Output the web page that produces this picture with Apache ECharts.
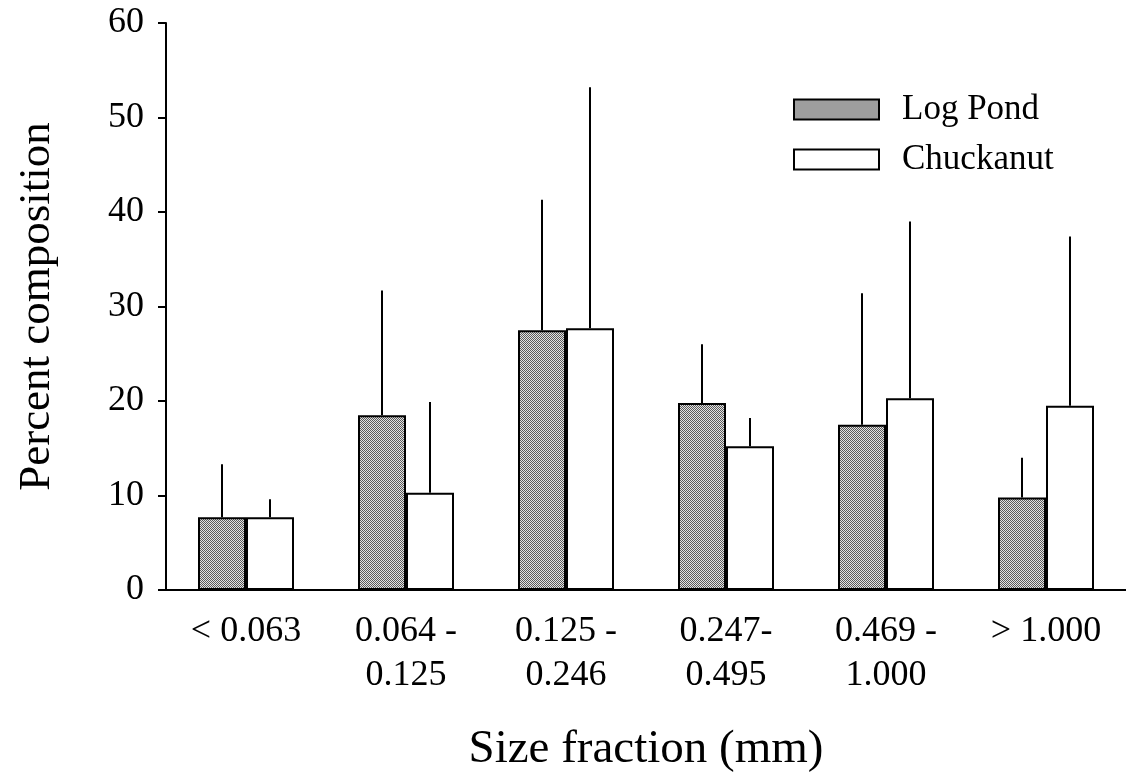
<!DOCTYPE html>
<html>
<head>
<meta charset="utf-8">
<script src="https://cdn.jsdelivr.net/npm/echarts@6/dist/echarts.min.js"></script>
<style>
  html, body { margin: 0; padding: 0; background: #fff; }
  #chart { width: 1126px; height: 780px; }
</style>
</head>
<body>
<div id="chart"></div>
<script>
// size fractions (mm)
var categories = ['< 0.063', '0.064 -\n0.125', '0.125 -\n0.246', '0.247-\n0.495', '0.469 -\n1.000', '> 1.000'];
// mean percent composition
var logPond = [7.7, 18.5, 27.5, 19.8, 17.5, 9.8];
var chuckanut = [7.7, 10.3, 27.7, 15.2, 20.3, 19.5];
// top of the error bars
var logPondUpper = [13.3, 31.7, 41.3, 26.0, 31.4, 14.0];
var chuckanutUpper = [9.6, 19.9, 53.2, 18.2, 39.0, 37.4];
var yTicks = { min: 0, max: 60, interval: 10 };

var serif = 'Liberation Serif, Times New Roman, serif';

// stippled fill like the original print
function makePattern() {
  var c = document.createElement('canvas');
  c.width = 2;
  c.height = 2;
  var ctx = c.getContext('2d');
  ctx.fillStyle = '#e2e2e2';
  ctx.fillRect(0, 0, 2, 2);
  ctx.fillStyle = '#5a5a5a';
  ctx.fillRect(0, 0, 1, 1);
  ctx.fillRect(1, 1, 1, 1);
  return { image: c, repeat: 'repeat' };
}
var stipple = makePattern();

function errData(vals, uppers) {
  var out = [];
  for (var i = 0; i < vals.length; i++) {
    out.push([i, vals[i], uppers[i]]);
  }
  return out;
}

function errSeries(name, vals, uppers, shift) {
  return {
    type: 'custom',
    name: name + ' err',
    silent: true,
    z: 1,
    data: errData(vals, uppers),
    encode: { x: 0, y: [1, 2] },
    renderItem: function (params, api) {
      var lo = api.coord([api.value(0), api.value(1)]);
      var hi = api.coord([api.value(0), api.value(2)]);
      var x = lo[0] + shift;
      return {
        type: 'line',
        shape: { x1: x, y1: lo[1], x2: x, y2: hi[1] },
        style: { stroke: '#000', lineWidth: 2 }
      };
    }
  };
}

var chart = echarts.init(document.getElementById('chart'));

var option = {
  backgroundColor: '#fff',
  animation: false,
  textStyle: { fontFamily: serif, color: '#000' },
  grid: { left: 166, right: -7, top: 23, bottom: 190, containLabel: false },
  legend: {
    orient: 'vertical',
    left: 793,
    top: 92,
    padding: 0,
    itemWidth: 85,
    itemHeight: 20,
    itemGap: 15,
    icon: 'rect',
    textStyle: { fontFamily: serif, fontSize: 35, lineHeight: 30, color: '#000', padding: [0, 0, 0, 18] },
    data: ['Log Pond', 'Chuckanut']
  },
  xAxis: {
    type: 'category',
    data: categories,
    name: 'Size fraction (mm)',
    nameLocation: 'middle',
    nameGap: 136,
    nameTextStyle: { fontFamily: serif, fontSize: 47, color: '#000' },
    axisLine: { lineStyle: { color: '#000', width: 2 } },
    axisTick: { alignWithLabel: true, length: 10, lineStyle: { color: '#000', width: 2 } },
    axisLabel: { fontFamily: serif, fontSize: 36, color: '#000', margin: 20, lineHeight: 44, interval: 0 }
  },
  yAxis: {
    type: 'value',
    min: yTicks.min,
    max: yTicks.max,
    interval: yTicks.interval,
    name: 'Percent composition',
    nameLocation: 'middle',
    nameGap: 106,
    nameTextStyle: { fontFamily: serif, fontSize: 45, color: '#000' },
    axisLine: { show: true, lineStyle: { color: '#000', width: 2 } },
    axisTick: { show: true, length: 8, lineStyle: { color: '#000', width: 2 } },
    axisLabel: { fontFamily: serif, fontSize: 36, color: '#000', margin: 22 },
    splitLine: { show: false }
  },
  series: [
    {
      name: 'Log Pond',
      type: 'bar',
      data: logPond,
      barWidth: 48,
      barGap: '0%',
      z: 2,
      itemStyle: { color: stipple, borderColor: '#000', borderWidth: 2 }
    },
    {
      name: 'Chuckanut',
      type: 'bar',
      data: chuckanut,
      barWidth: 48,
      z: 2,
      itemStyle: { color: '#fff', borderColor: '#000', borderWidth: 2 }
    },
    errSeries('Log Pond', logPond, logPondUpper, -24),
    errSeries('Chuckanut', chuckanut, chuckanutUpper, 24)
  ]
};

chart.setOption(option);
</script>
</body>
</html>
